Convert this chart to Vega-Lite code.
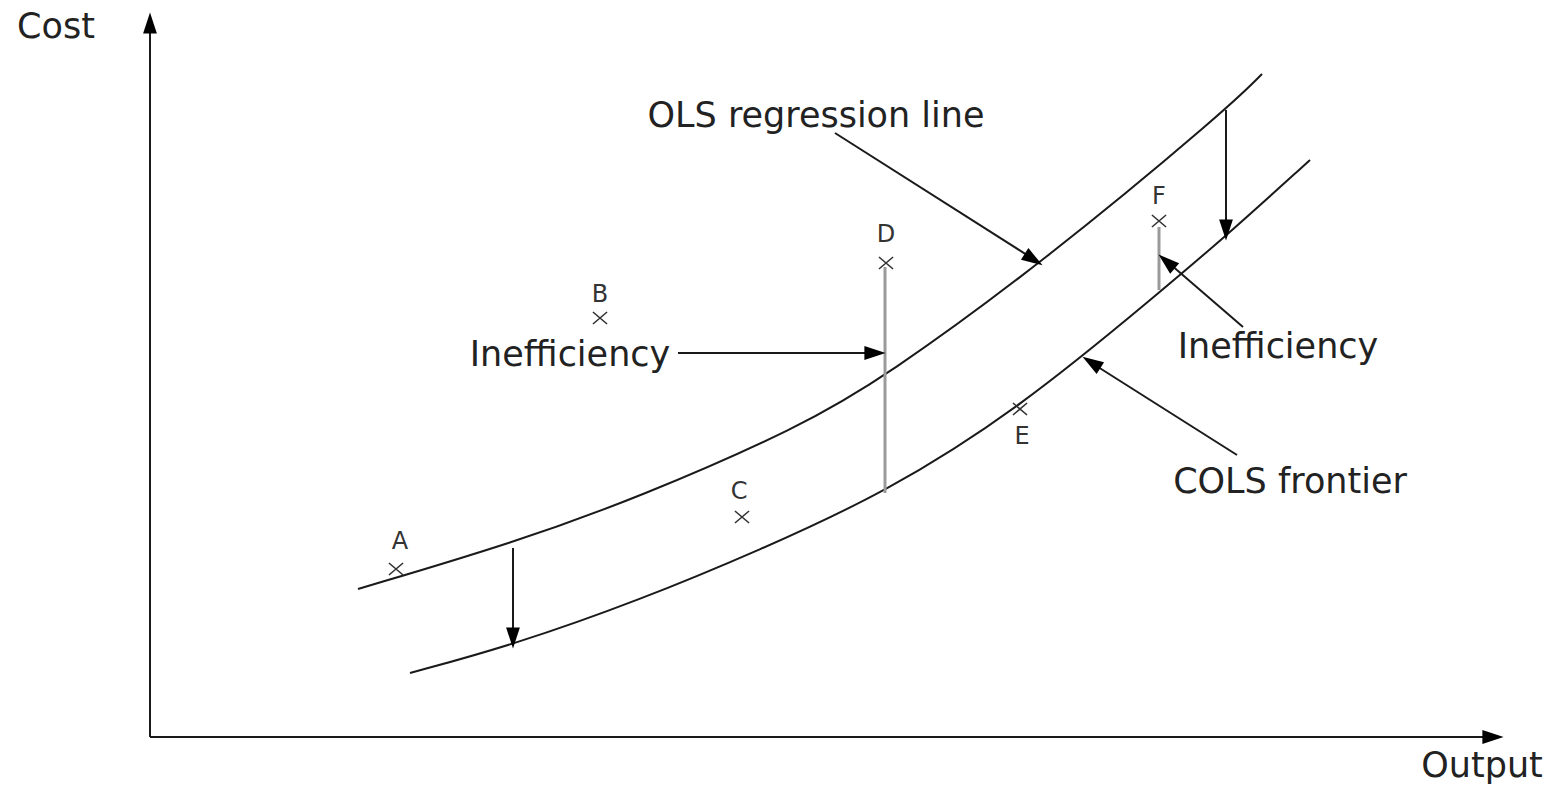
{
  "$schema": "https://vega.github.io/schema/vega-lite/v6.json",
  "width": 1550,
  "height": 785,
  "padding": 0,
  "autosize": {"type": "fit", "contains": "padding"},
  "background": "white",
  "config": {"view": {"stroke": null}},
  "datasets": {
    "curves": [
      {"curve": "OLS", "x": 20.8, "y": 14.8},
      {"curve": "OLS", "x": 36.3, "y": 19.4},
      {"curve": "OLS", "x": 49, "y": 24},
      {"curve": "OLS", "x": 65, "y": 31},
      {"curve": "OLS", "x": 73.5, "y": 36},
      {"curve": "OLS", "x": 89.2, "y": 47.4},
      {"curve": "OLS", "x": 107.6, "y": 62.7},
      {"curve": "OLS", "x": 111.2, "y": 66.3},
      {"curve": "COLS", "x": 26, "y": 6.4},
      {"curve": "COLS", "x": 36.3, "y": 9.2},
      {"curve": "COLS", "x": 49, "y": 13.7},
      {"curve": "COLS", "x": 61, "y": 18.7},
      {"curve": "COLS", "x": 73.5, "y": 24.4},
      {"curve": "COLS", "x": 87, "y": 32.9},
      {"curve": "COLS", "x": 101, "y": 44.5},
      {"curve": "COLS", "x": 107.6, "y": 50.1},
      {"curve": "COLS", "x": 116, "y": 57.7}
    ],
    "segments": [
      {"kind": "black", "x": 0, "y": 0, "x2": 0, "y2": 71.5},
      {"kind": "black", "x": 0, "y": 0, "x2": 134.5, "y2": 0},
      {"kind": "black", "x": 36.3, "y": 18.9, "x2": 36.3, "y2": 9.5},
      {"kind": "black", "x": 107.6, "y": 62.7, "x2": 107.6, "y2": 50.3},
      {"kind": "black", "x": 52.8, "y": 38.4, "x2": 73.0, "y2": 38.4},
      {"kind": "black", "x": 68.5, "y": 60.4, "x2": 88.8, "y2": 47.5},
      {"kind": "black", "x": 109.3, "y": 41, "x2": 101.3, "y2": 47.9},
      {"kind": "black", "x": 108.7, "y": 28.2, "x2": 93.7, "y2": 37.7},
      {"kind": "gray", "x": 73.5, "y": 47, "x2": 73.5, "y2": 24.4},
      {"kind": "gray", "x": 100.9, "y": 51, "x2": 100.9, "y2": 44.7}
    ],
    "heads": [
      {"x": 0, "y": 71.4, "angle": 0},
      {"x": 134.3, "y": 0, "angle": 90},
      {"x": 36.3, "y": 9.9, "angle": 180},
      {"x": 107.6, "y": 50.7, "angle": 180},
      {"x": 72.5, "y": 38.4, "angle": 90},
      {"x": 88.36, "y": 47.74, "angle": 122.5},
      {"x": 101.66, "y": 47.55, "angle": 310.6},
      {"x": 94.14, "y": 37.46, "angle": 302.5}
    ],
    "firms": [
      {"firm": "A", "x": 24.6, "y": 16.8, "lx": 25, "ly": 19.5},
      {"firm": "B", "x": 45, "y": 41.9, "lx": 45, "ly": 44.2},
      {"firm": "C", "x": 59.2, "y": 22, "lx": 58.9, "ly": 24.5},
      {"firm": "D", "x": 73.6, "y": 47.4, "lx": 73.6, "ly": 50.2},
      {"firm": "E", "x": 87, "y": 32.8, "lx": 87.2, "ly": 30},
      {"firm": "F", "x": 100.9, "y": 51.6, "lx": 100.9, "ly": 54}
    ],
    "labels": [
      {"text": "Cost", "x": -9.4, "y": 71},
      {"text": "Output", "x": 133.2, "y": -2.9},
      {"text": "OLS regression line", "x": 66.6, "y": 62.1},
      {"text": "Inefficiency", "x": 42, "y": 38.2},
      {"text": "Inefficiency", "x": 112.8, "y": 39},
      {"text": "COLS frontier", "x": 114, "y": 25.5}
    ]
  },
  "encoding": {
    "x": {"field": "x", "type": "quantitative", "scale": {"domain": [-15, 140], "nice": false, "zero": false}, "axis": null},
    "y": {"field": "y", "type": "quantitative", "scale": {"domain": [-4.8, 73.7], "nice": false, "zero": false}, "axis": null}
  },
  "layer": [
    {
      "data": {"name": "curves"},
      "mark": {"type": "line", "interpolate": "basis", "color": "#1a1a1a", "strokeWidth": 2},
      "encoding": {"detail": {"field": "curve"}}
    },
    {
      "data": {"name": "segments"},
      "mark": {"type": "rule"},
      "encoding": {
        "x2": {"field": "x2"},
        "y2": {"field": "y2"},
        "color": {"field": "kind", "type": "nominal", "scale": {"domain": ["black", "gray"], "range": ["#1a1a1a", "#9a9a9a"]}, "legend": null},
        "strokeWidth": {"field": "kind", "type": "nominal", "scale": {"domain": ["black", "gray"], "range": [2, 3]}, "legend": null}
      }
    },
    {
      "data": {"name": "heads"},
      "mark": {"type": "point", "shape": "M-0.65,1L0,-1L0.65,1Z", "filled": true, "color": "#000", "opacity": 1, "size": 450},
      "encoding": {"angle": {"field": "angle", "type": "quantitative", "scale": null}}
    },
    {
      "data": {"name": "firms"},
      "mark": {"type": "point", "shape": "M-1,-0.85L1,0.85M-1,0.85L1,-0.85", "filled": false, "color": "#333", "strokeWidth": 1.6, "opacity": 1, "size": 200}
    },
    {
      "data": {"name": "firms"},
      "mark": {"type": "text", "font": "DejaVu Sans", "fontSize": 24, "color": "#333", "baseline": "middle", "align": "center"},
      "encoding": {
        "x": {"field": "lx", "type": "quantitative"},
        "y": {"field": "ly", "type": "quantitative"},
        "text": {"field": "firm"}
      }
    },
    {
      "data": {"name": "labels"},
      "mark": {"type": "text", "font": "DejaVu Sans", "fontSize": 35, "color": "#222", "baseline": "middle", "align": "center"},
      "encoding": {"text": {"field": "text"}}
    }
  ]
}
